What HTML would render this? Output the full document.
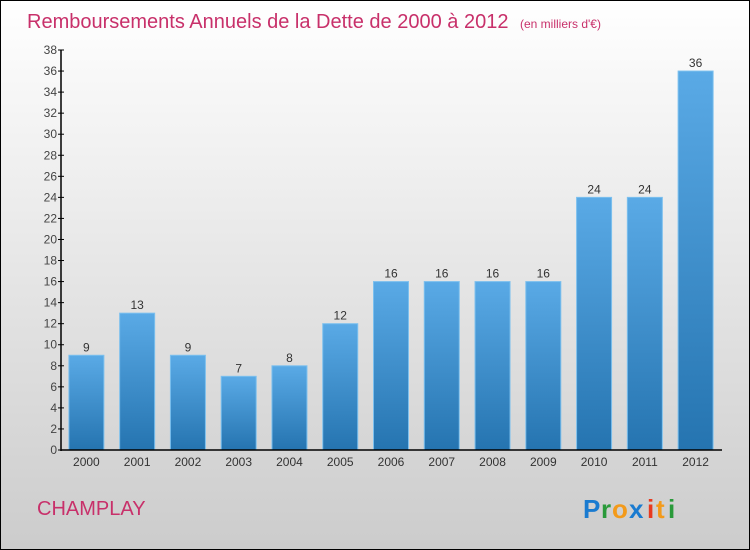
<!DOCTYPE html>
<html><head><meta charset="utf-8"><style>
body{margin:0}
#c{width:748px;height:548px;border:1px solid #000;background:linear-gradient(#fff,#ccc);position:relative;overflow:hidden;font-family:"Liberation Sans",sans-serif}
</style></head><body>
<div id="c">
<svg id="s" width="748" height="548" style="position:absolute;left:0;top:0">
<defs><linearGradient id="g" x1="0" y1="0" x2="0" y2="1"><stop offset="0" stop-color="#5aaae6"/><stop offset="1" stop-color="#2574b0"/></linearGradient></defs>
<text x="26" y="27" font-size="20" fill="#c8306a">Remboursements Annuels de la Dette de 2000 à 2012 <tspan font-size="12" dx="6">(en milliers d'€)</tspan></text>
<text x="36" y="514" font-size="20" fill="#c8306a">CHAMPLAY</text>
<g font-size="26" font-weight="bold">
<text x="582" y="517" fill="#1a7bd0">P</text><text x="600" y="517" fill="#2a9a3a">r</text><text x="611" y="517" fill="#f39a1a">o</text><text x="628" y="517" fill="#1a7bd0">x</text><text x="646" y="517" fill="#e83a20">i</text><text x="655" y="517" fill="#f39a1a">t</text><text x="667" y="517" fill="#2a9a3a">i</text>
</g>
<g id="plot"></g>
</svg>
</div>
<script>
const categories=["2000","2001","2002","2003","2004","2005","2006","2007","2008","2009","2010","2011","2012"];
const values=[9,13,9,7,8,12,16,16,16,16,24,24,36];
const yTicks=[0,2,4,6,8,10,12,14,16,18,20,22,24,26,28,30,32,34,36,38];
const NS="http://www.w3.org/2000/svg";
const p=document.getElementById('plot');
const x0=60,x1=720,y0=449,yTop=49,yMax=38;
const y=v=>y0-(y0-yTop)*v/yMax;
const step=(x1-x0)/categories.length;
const bx=i=>x0+step*i+(step-35)/2;
function mk(t,a,txt){const e=document.createElementNS(NS,t);for(const k in a)e.setAttribute(k,a[k]);if(txt!=null)e.textContent=txt;p.appendChild(e);return e;}
yTicks.forEach(t=>{
 const l=mk('line',{x1:x0-3,x2:x0+3,y1:y(t),y2:y(t),stroke:'#000'});
 
 
 const tx=mk('text',{x:x0-4,y:y(t)+4,'text-anchor':'end','font-size':12,fill:'#444'},t);
 
 
});
values.forEach((v,i)=>{
 const r=mk('rect',{x:bx(i),y:y(v),width:35,height:y0-y(v),fill:'url(#g)',stroke:'#7cc0ee','stroke-width':1});
 
 
 const vl=mk('text',{x:bx(i)+17.5,y:y(v)-4,'text-anchor':'middle','font-size':12,fill:'#333'},v);
 
 
 const cl=mk('text',{x:bx(i)+17.5,y:y0+16,'text-anchor':'middle','font-size':12,fill:'#333'},categories[i]);
 
 
});
const ya=mk('line',{x1:x0,x2:x0,y1:yTop,y2:y0+1,stroke:'#000','stroke-width':1.5});


const xa=mk('line',{x1:x0,x2:x1+1,y1:y0,y2:y0,stroke:'#000','stroke-width':1.5});


</script>
</body></html>
